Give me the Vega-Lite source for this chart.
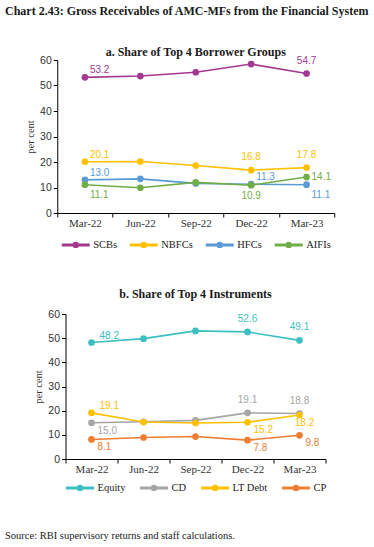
{
  "$schema": "https://vega.github.io/schema/vega-lite/v6.json",
  "padding": {"left": 5, "top": 5, "right": 5, "bottom": 5},
  "background": "white",
  "title": {"text": "Chart 2.43: Gross Receivables of AMC-MFs from the Financial System", "anchor": "start", "font": "Liberation Serif", "fontSize": 12, "fontWeight": "bold", "color": "#1a1a1a", "offset": 28},
  "datasets": {
    "borrowers": [
      {"series": "SCBs", "date": "Mar-22", "value": 53.2},
      {"series": "SCBs", "date": "Jun-22", "value": 53.7},
      {"series": "SCBs", "date": "Sep-22", "value": 55.2},
      {"series": "SCBs", "date": "Dec-22", "value": 58.4},
      {"series": "SCBs", "date": "Mar-23", "value": 54.7},
      {"series": "NBFCs", "date": "Mar-22", "value": 20.1},
      {"series": "NBFCs", "date": "Jun-22", "value": 20.2},
      {"series": "NBFCs", "date": "Sep-22", "value": 18.6},
      {"series": "NBFCs", "date": "Dec-22", "value": 16.8},
      {"series": "NBFCs", "date": "Mar-23", "value": 17.8},
      {"series": "HFCs", "date": "Mar-22", "value": 13.0},
      {"series": "HFCs", "date": "Jun-22", "value": 13.4},
      {"series": "HFCs", "date": "Sep-22", "value": 11.6},
      {"series": "HFCs", "date": "Dec-22", "value": 11.3},
      {"series": "HFCs", "date": "Mar-23", "value": 11.1},
      {"series": "AIFIs", "date": "Mar-22", "value": 11.1},
      {"series": "AIFIs", "date": "Jun-22", "value": 9.9},
      {"series": "AIFIs", "date": "Sep-22", "value": 12.0},
      {"series": "AIFIs", "date": "Dec-22", "value": 10.9},
      {"series": "AIFIs", "date": "Mar-23", "value": 14.1}
    ],
    "instruments": [
      {"series": "Equity", "date": "Mar-22", "value": 48.2},
      {"series": "Equity", "date": "Jun-22", "value": 49.8},
      {"series": "Equity", "date": "Sep-22", "value": 53.0},
      {"series": "Equity", "date": "Dec-22", "value": 52.6},
      {"series": "Equity", "date": "Mar-23", "value": 49.1},
      {"series": "CD", "date": "Mar-22", "value": 15.0},
      {"series": "CD", "date": "Jun-22", "value": 15.4},
      {"series": "CD", "date": "Sep-22", "value": 16.0},
      {"series": "CD", "date": "Dec-22", "value": 19.1},
      {"series": "CD", "date": "Mar-23", "value": 18.8},
      {"series": "LT Debt", "date": "Mar-22", "value": 19.1},
      {"series": "LT Debt", "date": "Jun-22", "value": 15.3},
      {"series": "LT Debt", "date": "Sep-22", "value": 14.9},
      {"series": "LT Debt", "date": "Dec-22", "value": 15.2},
      {"series": "LT Debt", "date": "Mar-23", "value": 18.2},
      {"series": "CP", "date": "Mar-22", "value": 8.1},
      {"series": "CP", "date": "Jun-22", "value": 8.9},
      {"series": "CP", "date": "Sep-22", "value": 9.3},
      {"series": "CP", "date": "Dec-22", "value": 7.8},
      {"series": "CP", "date": "Mar-23", "value": 9.8}
    ],
    "spacer": []
  },
  "resolve": {"scale": {"color": "independent", "x": "independent", "y": "independent"}, "legend": {"color": "independent"}},
  "vconcat": [
    {
      "title": {"text": "Source: RBI supervisory returns and staff calculations.", "orient": "bottom", "anchor": "start", "font": "Liberation Serif", "fontSize": 10.5, "fontWeight": "normal", "color": "#1a1a1a", "offset": 35},
      "spacing": 0,
      "resolve": {"scale": {"color": "independent", "x": "independent", "y": "independent"}, "legend": {"color": "independent"}},
      "hconcat": [
        {"data": {"name": "spacer"}, "width": 20, "height": 1, "mark": "point"},
        {
          "center": true,
          "spacing": 35,
          "resolve": {"scale": {"color": "independent", "x": "independent", "y": "independent"}, "legend": {"color": "independent"}},
          "vconcat": [
            {
              "data": {"name": "borrowers"},
              "title": {"text": "a. Share of Top 4 Borrower Groups", "font": "Liberation Serif", "fontSize": 12, "fontWeight": "bold", "color": "#1a1a1a", "offset": -4},
              "width": 277,
              "height": 153,
              "encoding": {
                "x": {"field": "date", "type": "ordinal", "sort": ["Mar-22", "Jun-22", "Sep-22", "Dec-22", "Mar-23"], "scale": {"type": "band", "paddingInner": 0, "paddingOuter": 0}, "title": null, "axis": {"tickBand": "extent", "labelAngle": 0, "labelFont": "Liberation Serif", "labelFontSize": 11, "labelColor": "#333", "labelPadding": 0, "tickSize": 4}},
                "y": {"field": "value", "type": "quantitative", "scale": {"domain": [0, 60], "nice": false}, "title": "per cent", "axis": {"values": [0, 10, 20, 30, 40, 50, 60], "labelFont": "Liberation Sans", "labelFontSize": 10.5, "labelColor": "#333", "titleFont": "Liberation Serif", "titleFontSize": 10.5, "titleFontWeight": "normal", "titleColor": "#333", "titlePadding": 4, "tickSize": 4}},
                "color": {"field": "series", "type": "nominal", "scale": {"domain": ["SCBs", "NBFCs", "HFCs", "AIFIs"], "range": ["#A3388F", "#FFC000", "#5B9BD5", "#70AD47"]}, "legend": {"title": null, "orient": "bottom", "direction": "horizontal", "columns": 4, "symbolType": "M-1,0H1M-0.12,0A0.12,0.12,0,1,1,0.12,0A0.12,0.12,0,1,1,-0.12,0", "symbolSize": 784, "symbolStrokeWidth": 3, "labelFont": "Liberation Serif", "labelFontSize": 10.5, "labelColor": "#222", "columnPadding": 6, "labelOffset": 2, "offset": 1}}
              },
              "layer": [
                {"mark": {"type": "line", "strokeWidth": 1.6}},
                {"mark": {"type": "circle", "size": 45, "opacity": 1}},
                {"transform": [{"filter": "indexof(['SCBs|Mar-22','NBFCs|Mar-22','HFCs|Mar-22','HFCs|Dec-22'], datum.series + '|' + datum.date) >= 0"}], "mark": {"type": "text", "align": "left", "dx": 5, "dy": -7, "font": "Liberation Sans", "fontSize": 10}, "encoding": {"text": {"field": "value", "type": "quantitative", "format": ".1f"}}},
                {"transform": [{"filter": "indexof(['SCBs|Mar-23','NBFCs|Dec-22','NBFCs|Mar-23'], datum.series + '|' + datum.date) >= 0"}], "mark": {"type": "text", "align": "center", "dy": -13, "font": "Liberation Sans", "fontSize": 10}, "encoding": {"text": {"field": "value", "type": "quantitative", "format": ".1f"}}},
                {"transform": [{"filter": "indexof(['HFCs|Mar-23','AIFIs|Mar-22'], datum.series + '|' + datum.date) >= 0"}], "mark": {"type": "text", "align": "left", "dx": 5, "dy": 10, "font": "Liberation Sans", "fontSize": 10}, "encoding": {"text": {"field": "value", "type": "quantitative", "format": ".1f"}}},
                {"transform": [{"filter": "indexof(['AIFIs|Dec-22'], datum.series + '|' + datum.date) >= 0"}], "mark": {"type": "text", "align": "center", "dy": 11, "font": "Liberation Sans", "fontSize": 10}, "encoding": {"text": {"field": "value", "type": "quantitative", "format": ".1f"}}},
                {"transform": [{"filter": "indexof(['AIFIs|Mar-23'], datum.series + '|' + datum.date) >= 0"}], "mark": {"type": "text", "align": "left", "dx": 5, "dy": 0, "font": "Liberation Sans", "fontSize": 10}, "encoding": {"text": {"field": "value", "type": "quantitative", "format": ".1f"}}}
              ]
            },
            {
              "data": {"name": "instruments"},
              "title": {"text": "b. Share of Top 4 Instruments", "font": "Liberation Serif", "fontSize": 12, "fontWeight": "bold", "color": "#1a1a1a", "offset": 8},
              "width": 260,
              "height": 145,
              "encoding": {
                "x": {"field": "date", "type": "ordinal", "sort": ["Mar-22", "Jun-22", "Sep-22", "Dec-22", "Mar-23"], "scale": {"type": "band", "paddingInner": 0, "paddingOuter": 0}, "title": null, "axis": {"tickBand": "extent", "labelAngle": 0, "labelFont": "Liberation Serif", "labelFontSize": 11, "labelColor": "#333", "labelPadding": 0, "tickSize": 4}},
                "y": {"field": "value", "type": "quantitative", "scale": {"domain": [0, 60], "nice": false}, "title": "per cent", "axis": {"values": [0, 10, 20, 30, 40, 50, 60], "labelFont": "Liberation Sans", "labelFontSize": 10.5, "labelColor": "#333", "titleFont": "Liberation Serif", "titleFontSize": 10.5, "titleFontWeight": "normal", "titleColor": "#333", "titlePadding": 4, "tickSize": 4}},
                "color": {"field": "series", "type": "nominal", "scale": {"domain": ["Equity", "CD", "LT Debt", "CP"], "range": ["#3BBFC0", "#A5A5A5", "#FFC000", "#ED7D31"]}, "legend": {"title": null, "orient": "bottom", "direction": "horizontal", "columns": 4, "symbolType": "M-1,0H1M-0.12,0A0.12,0.12,0,1,1,0.12,0A0.12,0.12,0,1,1,-0.12,0", "symbolSize": 784, "symbolStrokeWidth": 3, "labelFont": "Liberation Serif", "labelFontSize": 10.5, "labelColor": "#222", "columnPadding": 8, "labelOffset": 2, "offset": -2}}
              },
              "layer": [
                {"mark": {"type": "line", "strokeWidth": 1.6}},
                {"mark": {"type": "circle", "size": 45, "opacity": 1}},
                {"transform": [{"filter": "indexof(['Equity|Mar-22','LT Debt|Mar-22'], datum.series + '|' + datum.date) >= 0"}], "mark": {"type": "text", "align": "left", "dx": 8, "dy": -7, "font": "Liberation Sans", "fontSize": 10}, "encoding": {"text": {"field": "value", "type": "quantitative", "format": ".1f"}}},
                {"transform": [{"filter": "indexof(['Equity|Dec-22','Equity|Mar-23','CD|Dec-22','CD|Mar-23'], datum.series + '|' + datum.date) >= 0"}], "mark": {"type": "text", "align": "center", "dy": -13, "font": "Liberation Sans", "fontSize": 10}, "encoding": {"text": {"field": "value", "type": "quantitative", "format": ".1f"}}},
                {"transform": [{"filter": "indexof(['CD|Mar-22','LT Debt|Dec-22','CP|Mar-22','CP|Dec-22','CP|Mar-23'], datum.series + '|' + datum.date) >= 0"}], "mark": {"type": "text", "align": "left", "dx": 6, "dy": 8, "font": "Liberation Sans", "fontSize": 10}, "encoding": {"text": {"field": "value", "type": "quantitative", "format": ".1f"}}},
                {"transform": [{"filter": "indexof(['LT Debt|Mar-23'], datum.series + '|' + datum.date) >= 0"}], "mark": {"type": "text", "align": "center", "dx": 5, "dy": 8, "font": "Liberation Sans", "fontSize": 10}, "encoding": {"text": {"field": "value", "type": "quantitative", "format": ".1f"}}}
              ]
            }
          ]
        }
      ]
    }
  ],
  "config": {
    "view": {"stroke": null},
    "axis": {"grid": false, "domainColor": "#000", "tickColor": "#000", "domainWidth": 1, "tickWidth": 1},
    "legend": {"layout": {"bottom": {"anchor": "middle"}}}
  }
}
